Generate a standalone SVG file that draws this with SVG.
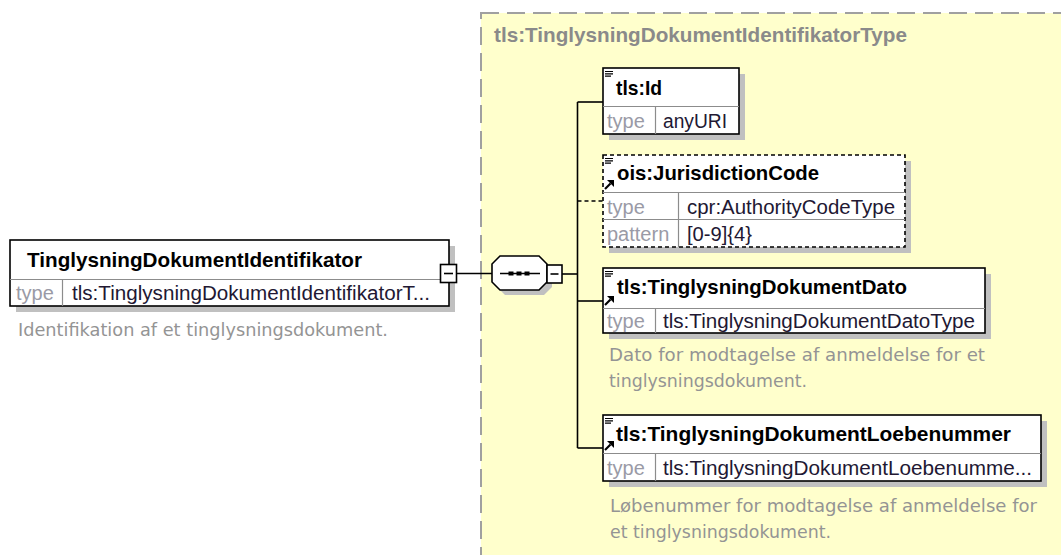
<svg xmlns="http://www.w3.org/2000/svg" xmlns:xlink="http://www.w3.org/1999/xlink" width="1061" height="555" viewBox="0 0 1061 555">
<style>
.bg{fill:#ffffff}
.cont{fill:#ffffcc;stroke:#a0a0a0;stroke-width:2;stroke-dasharray:18 8}
.ctitle{font-family:"Liberation Sans",Arial,sans-serif;font-weight:bold;font-size:20.5px;fill:#8a8a8a}
.box{fill:#ffffff;stroke:#000;stroke-width:1.6}
.dbox{fill:#ffffff;stroke:#000;stroke-width:1.6;stroke-dasharray:4 3}
.shadow{fill:#c0c0c0}
.div{stroke:#8c8c8c;stroke-width:1.2;fill:none}
.title{font-family:"Liberation Sans",Arial,sans-serif;font-weight:bold;font-size:20.5px;fill:#000}
.lbl{font-family:"Liberation Sans",Arial,sans-serif;font-size:20px;fill:#9a9aa6}
.val{font-family:"Liberation Sans",Arial,sans-serif;font-size:20px;fill:#221833}
.desc{font-family:"DejaVu Sans",Verdana,sans-serif;font-size:17.5px;fill:#949494}
.conn{stroke:#000;stroke-width:1.6;fill:none}
.dconn{stroke:#000;stroke-width:1.6;fill:none;stroke-dasharray:4 3}
.ico{stroke:#000;stroke-width:1.2;fill:none}
</style>
<defs>
<g id="docIcon"><path class="ico" d="M0,0.5 H8 M0,2.8 H8 M0,5.1 H6"/></g>
<g id="refArrow"><path d="M1,9 L6.5,3.5" stroke="#000" stroke-width="2.2"/><path d="M3,0 H10 V7 Z" fill="#000"/></g>
</defs>
<rect class="bg" x="0" y="0" width="1061" height="555"/>

<g id="container">
<rect class="cont" x="481" y="13" width="600" height="560"/>
<text class="ctitle" x="494" y="42" textLength="413" lengthAdjust="spacingAndGlyphs">tls:TinglysningDokumentIdentifikatorType</text>
</g>

<g id="connectors">
<line class="conn" x1="457" y1="273.5" x2="492" y2="273.5"/>
<line class="conn" x1="562" y1="274" x2="577.5" y2="274"/>
<line class="conn" x1="577.5" y1="102" x2="577.5" y2="448"/>
<line class="conn" x1="577.5" y1="102" x2="603" y2="102"/>
<line class="dconn" x1="577.5" y1="201" x2="603" y2="201"/>
<line class="conn" x1="577.5" y1="301" x2="603" y2="301"/>
<line class="conn" x1="577.5" y1="448" x2="603" y2="448"/>
</g>

<g id="node-main">
<rect class="shadow" x="16" y="246" width="439" height="66"/>
<rect class="box" x="10" y="240" width="439" height="66"/>
<line class="div" x1="10" y1="279.5" x2="449" y2="279.5"/>
<line class="div" x1="62.5" y1="279.5" x2="62.5" y2="306"/>
<text class="title" x="27" y="267" textLength="335" lengthAdjust="spacingAndGlyphs">TinglysningDokumentIdentifikator</text>
<text class="lbl" x="16" y="300">type</text>
<text class="val" x="72" y="300" textLength="358" lengthAdjust="spacingAndGlyphs">tls:TinglysningDokumentIdentifikatorT...</text>
<rect class="box" x="440.5" y="264.5" width="16" height="18"/>
<line class="conn" x1="444" y1="273.5" x2="453" y2="273.5"/>
<text class="desc" x="18" y="336" textLength="370" lengthAdjust="spacingAndGlyphs">Identifikation af et tinglysningsdokument.</text>
</g>

<g id="node-sequence">
<polygon class="shadow" points="505,261 544,261 552,269 552,287 544,295 505,295 497,287 497,269"/>
<polygon class="box" points="500,256 539,256 547,264 547,282 539,290 500,290 492,282 492,264"/>
<line class="conn" x1="500" y1="273.5" x2="540" y2="273.5"/>
<rect x="508.5" y="271.5" width="5" height="4" fill="#000"/>
<rect x="516.5" y="271.5" width="5" height="4" fill="#000"/>
<rect x="524.5" y="271.5" width="5" height="4" fill="#000"/>
<rect class="box" x="547" y="265" width="15" height="18"/>
<line class="conn" x1="550.5" y1="274" x2="558.5" y2="274"/>
</g>

<g id="node-id">
<rect class="shadow" x="609" y="74" width="136" height="66"/>
<rect class="box" x="603" y="68" width="136" height="66"/>
<line class="div" x1="603" y1="106.5" x2="739" y2="106.5"/>
<line class="div" x1="655.5" y1="106.5" x2="655.5" y2="134"/>
<use xlink:href="#docIcon" x="605" y="71"/>
<text class="title" x="616" y="95" textLength="46" lengthAdjust="spacingAndGlyphs">tls:Id</text>
<text class="lbl" x="607" y="128">type</text>
<text class="val" x="663" y="128" textLength="64" lengthAdjust="spacingAndGlyphs">anyURI</text>
</g>

<g id="node-jurisdiction">
<rect class="shadow" x="609" y="161" width="302" height="92"/>
<rect class="dbox" x="603" y="155" width="302" height="92"/>
<line class="div" x1="603" y1="192.5" x2="905" y2="192.5"/>
<line class="div" x1="603" y1="219.5" x2="905" y2="219.5"/>
<line class="div" x1="678.5" y1="192.5" x2="678.5" y2="247"/>
<use xlink:href="#docIcon" x="605" y="158"/>
<use xlink:href="#refArrow" x="604" y="180"/>
<text class="title" x="617" y="180" textLength="202" lengthAdjust="spacingAndGlyphs">ois:JurisdictionCode</text>
<text class="lbl" x="607" y="214">type</text>
<text class="val" x="687" y="214" textLength="208" lengthAdjust="spacingAndGlyphs">cpr:AuthorityCodeType</text>
<text class="lbl" x="607" y="241">pattern</text>
<text class="val" x="687" y="241" textLength="65" lengthAdjust="spacingAndGlyphs">[0-9]{4}</text>
</g>

<g id="node-dato">
<rect class="shadow" x="609" y="274" width="382" height="65"/>
<rect class="box" x="603" y="268" width="382" height="65"/>
<line class="div" x1="603" y1="308.5" x2="985" y2="308.5"/>
<line class="div" x1="655.5" y1="308.5" x2="655.5" y2="333"/>
<use xlink:href="#docIcon" x="605" y="271"/>
<use xlink:href="#refArrow" x="604" y="296"/>
<text class="title" x="617" y="294" textLength="290" lengthAdjust="spacingAndGlyphs">tls:TinglysningDokumentDato</text>
<text class="lbl" x="607" y="328">type</text>
<text class="val" x="663" y="328" textLength="312" lengthAdjust="spacingAndGlyphs">tls:TinglysningDokumentDatoType</text>
<text class="desc" x="609" y="361" textLength="376" lengthAdjust="spacingAndGlyphs">Dato for modtagelse af anmeldelse for et</text>
<text class="desc" x="609" y="387" textLength="198" lengthAdjust="spacingAndGlyphs">tinglysningsdokument.</text>
</g>

<g id="node-loebenummer">
<rect class="shadow" x="609" y="421" width="438" height="66"/>
<rect class="box" x="603" y="415" width="438" height="66"/>
<line class="div" x1="603" y1="453.5" x2="1041" y2="453.5"/>
<line class="div" x1="655.5" y1="453.5" x2="655.5" y2="481"/>
<use xlink:href="#docIcon" x="605" y="418"/>
<use xlink:href="#refArrow" x="604" y="441"/>
<text class="title" x="616" y="441" textLength="395" lengthAdjust="spacingAndGlyphs">tls:TinglysningDokumentLoebenummer</text>
<text class="lbl" x="607" y="475">type</text>
<text class="val" x="663" y="475" textLength="369" lengthAdjust="spacingAndGlyphs">tls:TinglysningDokumentLoebenumme...</text>
<text class="desc" x="610" y="512" textLength="427" lengthAdjust="spacingAndGlyphs">Løbenummer for modtagelse af anmeldelse for</text>
<text class="desc" x="610" y="538" textLength="221" lengthAdjust="spacingAndGlyphs">et tinglysningsdokument.</text>
</g>
</svg>
